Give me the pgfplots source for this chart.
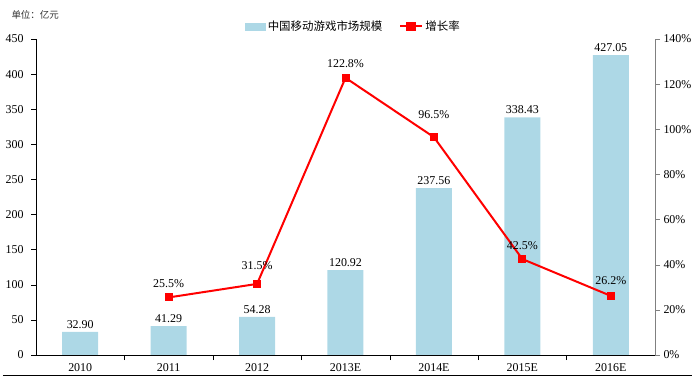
\documentclass[border=0pt]{standalone}
\usepackage{pgfplots}
\pgfplotsset{compat=1.18}
\usepackage{fontspec}
\setmainfont{Liberation Serif}
\newfontfamily\cjk{Noto Sans CJK SC}
\definecolor{barblue}{RGB}{173,216,230}
\definecolor{axgray}{RGB}{128,128,128}
\pgfplotstableread{
x y dy
1 25.5 5
2 31.5 10
3 122.8 6
4 96.5 14
5 42.5 5
6 26.2 7
}\ratetable
\begin{document}
\begin{tikzpicture}
\useasboundingbox (-36bp,-22bp) rectangle (656bp,355bp);
\begin{axis}[
  at={(0bp,0bp)}, anchor=south west,
  scale only axis, width=619bp, height=316bp,
  xmin=-0.5, xmax=6.5, ymin=0, ymax=450,
  axis x line*=bottom, axis y line*=left,
  axis line style={-, black},
  ytick={0,50,...,450},
  xtick={0.5,1.5,...,5.5}, xticklabels={},
  extra x ticks={0,1,2,3,4,5,6},
  extra x tick labels={2010,2011,2012,2013E,2014E,2015E,2016E},
  extra x tick style={major tick length=0pt},
  tick align=outside, major tick length=5bp,
  tick style={black, thin},
  ticklabel style={font=\fontsize{12}{14}\selectfont},
  xticklabel style={yshift=-5bp},
  yticklabel style={xshift=-4bp},
  /pgf/number format/assume math mode=true,
  ybar, bar width=36bp,
  nodes near coords={\pgfmathprintnumber[fixed,fixed zerofill,precision=2,assume math mode=true]{\pgfplotspointmeta}},
  nodes near coords style={font=\fontsize{12}{14}\selectfont, black},
]
\addplot[fill=barblue, draw=none] coordinates {(0,32.90) (1,41.29) (2,54.28) (3,120.92) (4,237.56) (5,338.43) (6,427.05)};
\end{axis}
\begin{axis}[
  at={(0bp,0bp)}, anchor=south west,
  scale only axis, width=619bp, height=316bp,
  xmin=-0.5, xmax=6.5, ymin=0, ymax=140,
  axis x line=none, axis y line*=right,
  axis line style={-, axgray},
  ytick={0,20,...,140},
  yticklabel={\pgfmathprintnumber[assume math mode=true]{\tick}\%},
  tick align=outside, major tick length=5bp,
  tick style={axgray, thin},
  ticklabel style={font=\fontsize{12}{14}\selectfont},
  legend style={draw=none, fill=none, at={(0.513,1.04)}, anchor=center,
    legend columns=2, font=\cjk\fontsize{11.5}{13}\selectfont,
    /tikz/every even column/.append style={column sep=15bp}},
]
\addlegendimage{legend image code/.code={\fill[barblue] (0bp,-3.5bp) rectangle (20bp,3.5bp);}}
\addlegendentry{中国移动游戏市场规模}
\addplot[red, line width=2bp, mark=square*, mark size=3bp, mark options={solid, fill=red},
  visualization depends on={\thisrow{dy}\as\labdy},
  nodes near coords={\pgfmathprintnumber[fixed,fixed zerofill,precision=1,assume math mode=true]{\pgfplotspointmeta}\%},
  nodes near coords style={font=\fontsize{12}{14}\selectfont, black, yshift=\labdy bp},
  legend image code/.code={\draw[red,line width=2bp] (0bp,0bp) -- (22bp,0bp); \fill[red] (7bp,-3.5bp) rectangle (15bp,3.5bp);}
] table[x=x, y=y] {\ratetable};
\addlegendentry{增长率}
\end{axis}
\node[anchor=west, font=\cjk\fontsize{9.5}{11}\selectfont, text=black!80] at (-28bp,340bp) {单位：亿元};
\draw[black, line width=1.2bp] (-33bp,-20.5bp) -- (656bp,-20.5bp);
\end{tikzpicture}
\end{document}
